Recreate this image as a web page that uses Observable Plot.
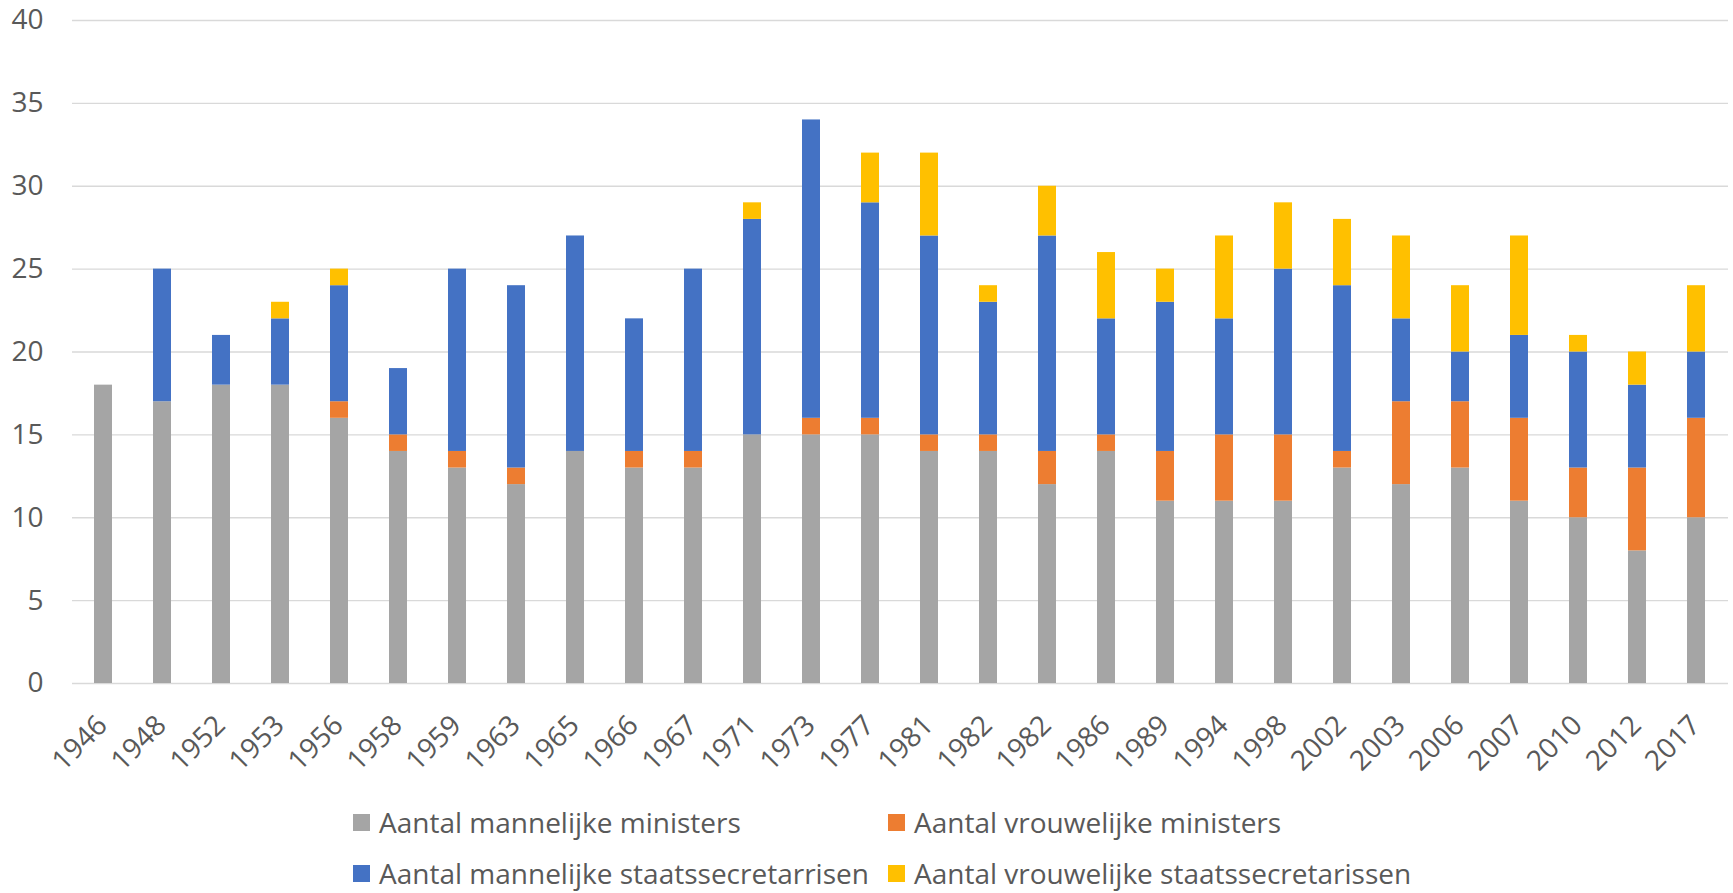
<!DOCTYPE html>
<html>
<head>
<meta charset="utf-8">
<script src="https://cdn.jsdelivr.net/npm/d3@7"></script>
<script src="https://cdn.jsdelivr.net/npm/@observablehq/plot@0.6"></script>
<style>
  body { margin: 0; background: #fff; }
  #wrap { position: relative; width: 1733px; height: 893px; font-family: "Open Sans", sans-serif; overflow: hidden; }
  #wrap svg { position: absolute; left: 0; top: 0; overflow: visible; }
  .lg { position: absolute; display: flex; align-items: center; height: 34px; line-height: 34px; font-size: 28px; color: #595959; white-space: nowrap; }
  .sw { width: 17px; height: 17px; margin-right: 9px; flex: none; }
</style>
</head>
<body>
<div id="wrap"></div>
<script>
const years = ["1946","1948","1952","1953","1956","1958","1959","1963","1965","1966","1967","1971","1973","1977","1981","1982","1982","1986","1989","1994","1998","2002","2003","2006","2007","2010","2012","2017"];
const mannelijkeMinisters =           [18,17,18,18,16,14,13,12,14,13,13,15,15,15,14,14,12,14,11,11,11,13,12,13,11,10, 8,10];
const vrouwelijkeMinisters =          [ 0, 0, 0, 0, 1, 1, 1, 1, 0, 1, 1, 0, 1, 1, 1, 1, 2, 1, 3, 4, 4, 1, 5, 4, 5, 3, 5, 6];
const mannelijkeStaatssecretarissen = [ 0, 8, 3, 4, 7, 4,11,11,13, 8,11,13,18,13,12, 8,13, 7, 9, 7,10,10, 5, 3, 5, 7, 5, 4];
const vrouwelijkeStaatssecretarissen =[ 0, 0, 0, 1, 1, 0, 0, 0, 0, 0, 0, 1, 0, 3, 5, 1, 3, 4, 2, 5, 4, 4, 5, 4, 6, 1, 2, 4];
const seriesNames = ["Aantal mannelijke ministers","Aantal vrouwelijke ministers","Aantal mannelijke staatssecretarrisen","Aantal vrouwelijke staatssecretarissen"];
const seriesColors = ["#A5A5A5","#ED7D31","#4472C4","#FFC000"];
const yTicks = [0,5,10,15,20,25,30,35,40];

const seriesValues = [mannelijkeMinisters, vrouwelijkeMinisters, mannelijkeStaatssecretarissen, vrouwelijkeStaatssecretarissen];
const rows = [];
seriesValues.forEach((vals, s) => vals.forEach((v, i) => rows.push({i, serie: seriesNames[s], value: v})));

const chart = Plot.plot({
  width: 1733,
  height: 800,
  marginTop: 20,
  marginBottom: 117,
  marginLeft: 72,
  marginRight: 5,
  x: {type: "band", domain: d3.range(years.length), paddingInner: 0.69, paddingOuter: 0.345, align: 0.5, label: null},
  y: {domain: [0, 40], label: null},
  color: {domain: seriesNames, range: seriesColors},
  style: {fontFamily: "'Open Sans', sans-serif", fontSize: "28px", color: "#595959", background: "white", overflow: "visible"},
  marks: [
    Plot.ruleY(yTicks, {stroke: "#d9d9d9", strokeWidth: 1.4}),
    Plot.barY(rows, {x: "i", y: "value", fill: "serie"}),
    Plot.axisY({ticks: yTicks, tickSize: 0, tickPadding: 29, fill: "#595959", fontSize: 28, label: null}),
    Plot.axisX({tickFormat: i => years[i], tickRotate: -45, tickSize: 0, tickPadding: 37, dx: -1, fill: "#595959", fontSize: 28, label: null})
  ]
});

const wrap = document.getElementById("wrap");
wrap.appendChild(chart);

const legendPos = [
  {left: 353, top: 805},
  {left: 888, top: 805},
  {left: 353, top: 856},
  {left: 888, top: 856}
];
seriesNames.forEach((name, k) => {
  const d = document.createElement("div");
  d.className = "lg";
  d.style.left = legendPos[k].left + "px";
  d.style.top = legendPos[k].top + "px";
  const sw = document.createElement("span");
  sw.className = "sw";
  sw.style.background = seriesColors[k];
  d.appendChild(sw);
  d.appendChild(document.createTextNode(name));
  wrap.appendChild(d);
});
</script>
</body>
</html>
